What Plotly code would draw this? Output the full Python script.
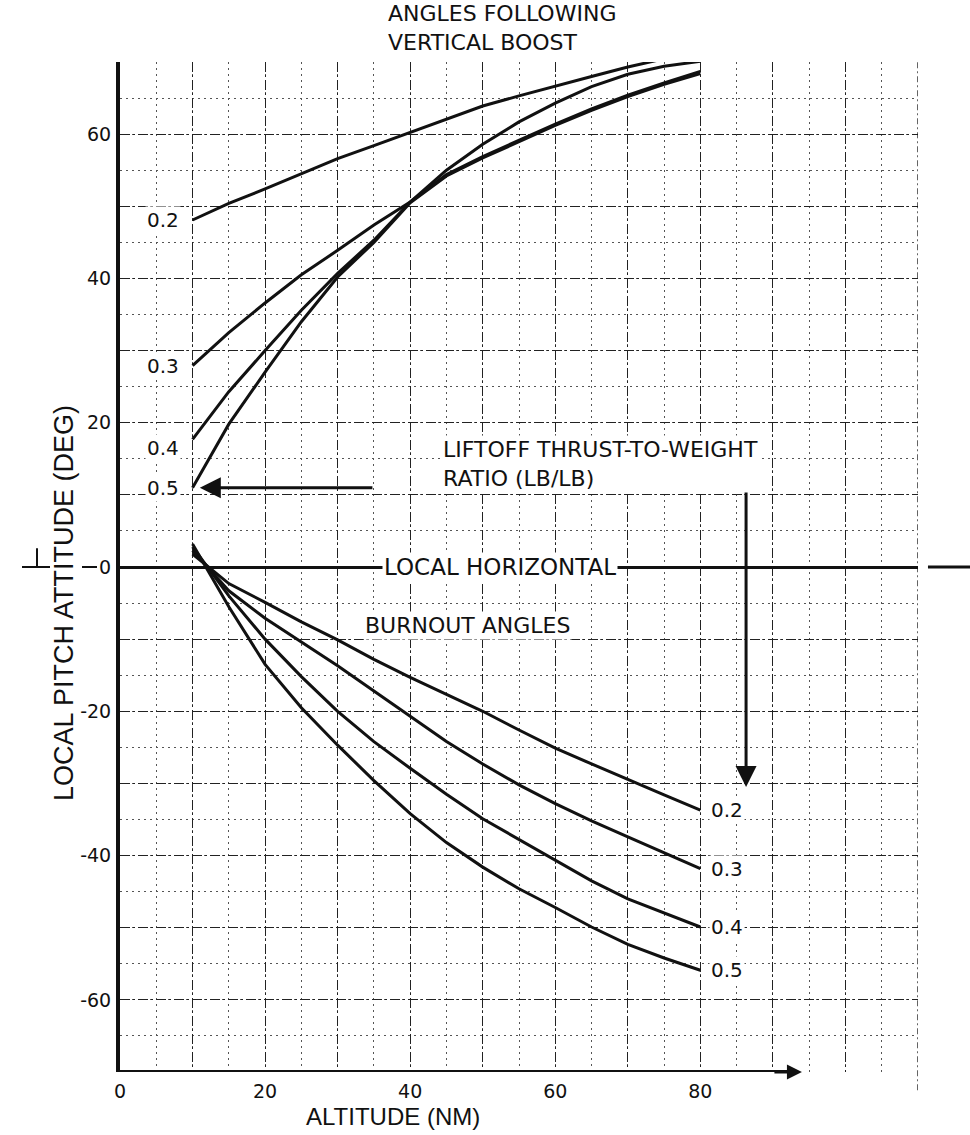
import plotly.graph_objects as go

# Altitude stations (NM)
altitude = [10, 15, 20, 25, 30, 35, 40, 45, 50, 55, 60, 65, 70, 75, 80]

# Local pitch attitude following vertical boost (deg), by liftoff T/W
boost_02 = [48.1, 50.4, 52.4, 54.5, 56.6, 58.4, 60.2, 62.1, 63.9, 65.3, 66.7, 68.0, 69.3, 70.5, 71.6]
boost_03 = [27.9, 32.5, 36.6, 40.5, 43.9, 47.4, 50.6, 54.4, 56.9, 59.2, 61.4, 63.5, 65.4, 67.1, 68.7]
boost_04 = [17.7, 24.3, 30.0, 35.6, 40.7, 45.3, 50.6, 55.0, 58.6, 61.7, 64.3, 66.6, 68.3, 69.4, 70.1]
boost_05 = [11.0, 19.8, 27.0, 34.0, 40.2, 45.0, 50.5, 54.2, 56.7, 59.0, 61.2, 63.3, 65.2, 66.9, 68.4]

# Local pitch attitude at burnout (deg), by liftoff T/W
burnout_02 = [1.8, -2.3, -4.9, -7.6, -10.1, -12.8, -15.3, -17.7, -20.0, -22.6, -25.1, -27.3, -29.5, -31.6, -33.7]
burnout_03 = [2.3, -3.3, -7.1, -10.4, -13.7, -17.2, -20.7, -24.2, -27.3, -30.2, -32.8, -35.2, -37.4, -39.6, -41.8]
burnout_04 = [2.8, -4.0, -10.0, -15.2, -20.0, -24.2, -27.9, -31.5, -34.9, -37.8, -40.7, -43.5, -46.0, -48.0, -49.9]
burnout_05 = [3.2, -5.5, -13.5, -19.5, -24.7, -29.6, -34.2, -38.2, -41.6, -44.6, -47.2, -49.9, -52.3, -54.2, -55.9]

ratios = ["0.2", "0.3", "0.4", "0.5"]
boost = [boost_02, boost_03, boost_04, boost_05]
burnout = [burnout_02, burnout_03, burnout_04, burnout_05]

x_ticks = [0, 20, 40, 60, 80]
y_ticks = [60, 40, 20, 0, -20, -40, -60]

FONT = "DejaVu Sans"
TITLE_FONT = "Liberation Sans"
INK = "#111111"

fig = go.Figure()
for r, b in zip(ratios, boost):
    fig.add_trace(go.Scatter(x=altitude, y=b, mode="lines", name=r,
                             line=dict(color=INK, width=3), showlegend=False))
for r, b in zip(ratios, burnout):
    fig.add_trace(go.Scatter(x=altitude, y=b, mode="lines", name=r,
                             line=dict(color=INK, width=3), showlegend=False))

x_grid = list(range(0, 111, 10))
y_grid = list(range(-70, 71, 10))

fig.update_layout(
    width=970, height=1135,
    margin=dict(l=120, r=52, t=62, b=63),
    paper_bgcolor="white", plot_bgcolor="white",
    font=dict(family=FONT, color=INK, size=18),
    xaxis=dict(
        range=[0, 110], tickvals=x_grid,
        ticktext=[str(v) if v in x_ticks else "" for v in x_grid],
        showgrid=True, gridcolor="#222", gridwidth=1.3, griddash="10px,3px,2px,3px",
        minor=dict(dtick=5, showgrid=True, gridcolor="#555", gridwidth=1, griddash="2px,4px"),
        zeroline=False, showline=False, ticks="", ticklabelstandoff=6,
        tickfont=dict(size=19),
    ),
    yaxis=dict(
        range=[-70, 70], tickvals=y_grid,
        ticktext=[str(v) if v in y_ticks else "" for v in y_grid],
        showgrid=True, gridcolor="#222", gridwidth=1.3, griddash="10px,3px,2px,3px",
        minor=dict(dtick=5, showgrid=True, gridcolor="#555", gridwidth=1, griddash="2px,4px"),
        zeroline=True, zerolinecolor=INK, zerolinewidth=3,
        showline=True, linecolor=INK, linewidth=4, ticks="", ticklabelstandoff=1,
        tickfont=dict(size=19),
    ),
)

# bottom axis line with arrow, right frame, horizontal extension
fig.add_shape(type="line", xref="x", yref="y", x0=0, x1=92, y0=-70, y1=-70,
              line=dict(color=INK, width=4))
fig.add_annotation(x=94, y=-70, ax=90, ay=-70, axref="x", ayref="y", xref="x", yref="y",
                   showarrow=True, arrowhead=2, arrowsize=1, arrowwidth=3, arrowcolor=INK, text="")
fig.add_shape(type="line", xref="x", yref="paper", x0=110, x1=110, y0=-0.018, y1=1,
              line=dict(color=INK, width=1.3, dash="6px,3px,2px,3px"))
fig.add_shape(type="line", xref="paper", yref="y", x0=1.0125, x1=1.066, y0=0, y1=0,
              line=dict(color=INK, width=3))


def px(xp):
    return (xp - 120) / 798.0


def py(yp):
    return (1072 - yp) / 1010.0


# registration marks on the zero line, left of the axis
fig.add_shape(type="line", xref="paper", yref="y", x0=px(22), x1=px(50), y0=0, y1=0,
              line=dict(color=INK, width=2))
fig.add_shape(type="line", xref="paper", yref="y", x0=px(37), x1=px(37), y0=0, y1=2.6,
              line=dict(color=INK, width=2))
fig.add_shape(type="line", xref="paper", yref="y", x0=px(82), x1=px(97), y0=0, y1=0,
              line=dict(color=INK, width=2))

# liftoff T/W pointers
fig.add_annotation(x=11.0, y=11.0, ax=35.0, ay=11.0, axref="x", ayref="y", xref="x", yref="y",
                   showarrow=True, arrowhead=2, arrowsize=1.4, arrowwidth=3, arrowcolor=INK, text="")
fig.add_shape(type="line", xref="x", yref="y", x0=74.5, x1=86.3, y0=11.5, y1=11.5,
              line=dict(color=INK, width=3))
fig.add_annotation(x=86.3, y=-30.5, ax=86.3, ay=11.5, axref="x", ayref="y", xref="x", yref="y",
                   showarrow=True, arrowhead=2, arrowsize=1.4, arrowwidth=3, arrowcolor=INK, text="")

# curve labels
for r, b in zip(ratios, boost):
    fig.add_annotation(x=5.9, y=b[0] - (1.2 if r == "0.4" else 0), text=r, showarrow=False,
                       xanchor="center", yanchor="middle",
                       xref="x", yref="y", font=dict(size=20), bgcolor="white")
for r, b in zip(ratios, burnout):
    fig.add_annotation(x=81.2, y=b[-1], text=r, showarrow=False, xanchor="left", yanchor="middle",
                       xref="x", yref="y", font=dict(size=20), bgcolor="white")

# text blocks
fig.add_annotation(x=44.3, y=14.3, text="LIFTOFF THRUST-TO-WEIGHT<br>RATIO (LB/LB)",
                   xanchor="left", yanchor="middle", align="left", showarrow=False,
                   xref="x", yref="y", font=dict(size=22), bgcolor="white")
fig.add_annotation(x=52.4, y=0, text="LOCAL HORIZONTAL", showarrow=False, xref="x", yref="y",
                   xanchor="center", yanchor="middle", font=dict(size=23), bgcolor="white")
fig.add_annotation(x=47.9, y=-8.1, text="BURNOUT ANGLES", showarrow=False, xref="x", yref="y",
                   xanchor="center", yanchor="middle", font=dict(size=22), bgcolor="white")
fig.add_annotation(x=px(386), y=py(28), xref="paper", yref="paper",
                   text="ANGLES FOLLOWING<br>VERTICAL BOOST", xanchor="left", yanchor="middle",
                   align="left", showarrow=False, font=dict(size=22))

# axis titles
fig.add_annotation(x=px(393), y=py(1116), xref="paper", yref="paper",
                   xanchor="center", yanchor="middle",
                   text="ALTITUDE (NM)", showarrow=False, font=dict(family=TITLE_FONT, size=24))
fig.add_annotation(x=px(64), y=py(603), xref="paper", yref="paper",
                   xanchor="center", yanchor="middle",
                   text="LOCAL PITCH ATTITUDE (DEG)", textangle=-90, showarrow=False,
                   font=dict(family=TITLE_FONT, size=27))

fig.write_html("out.html")
